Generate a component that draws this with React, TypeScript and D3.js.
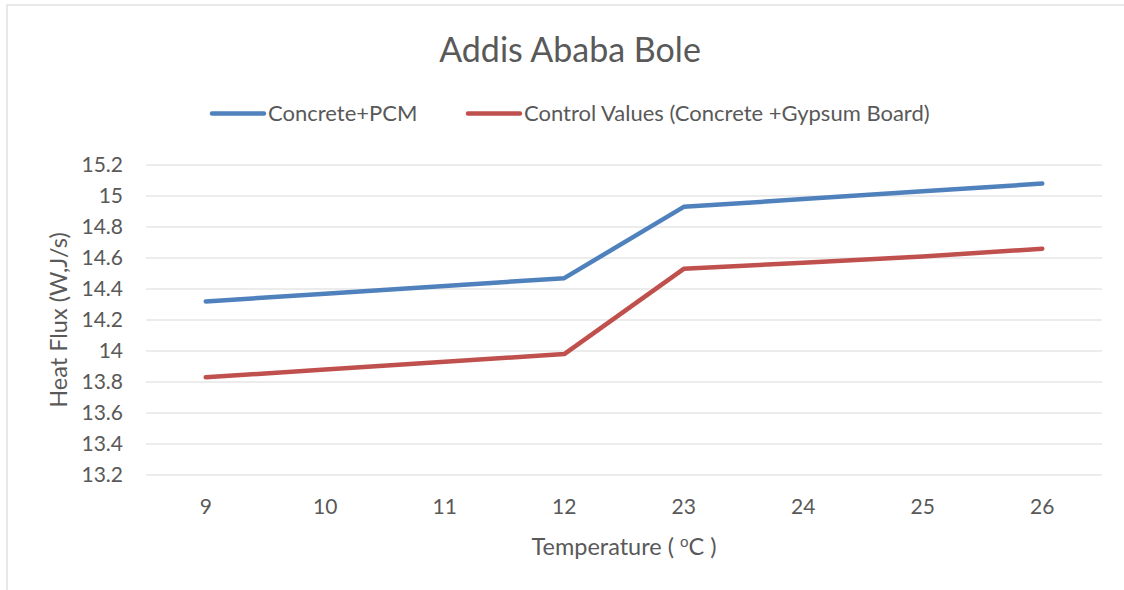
import * as d3 from 'd3';
import React from 'react';

const temps = ['9', '10', '11', '12', '23', '24', '25', '26'];
const pcmValues = [14.32, 14.37, 14.42, 14.47, 14.93, 14.98, 15.03, 15.08];
const controlValues = [13.83, 13.88, 13.93, 13.98, 14.53, 14.57, 14.61, 14.66];
const yTicks = [13.2, 13.4, 13.6, 13.8, 14, 14.2, 14.4, 14.6, 14.8, 15, 15.2];
const seriesNames = ['Concrete+PCM', 'Control Values (Concrete +Gypsum Board)'];
const seriesColors = ['#4F81BD', '#C0504D'];

const W = 1124;
const H = 590;
const font = 'Lato, "Open Sans", sans-serif';
const textColor = '#595959';

export default function App() {
  const plot = { left: 146, right: 1102, top: 165, bottom: 475 };

  const x = d3.scaleBand<string>().domain(temps).range([plot.left, plot.right]);
  const y = d3.scaleLinear().domain([13.2, 15.2]).range([plot.bottom, plot.top]);

  const line = d3.line<number>()
    .x((d, i) => (x(temps[i]) as number) + x.bandwidth() / 2)
    .y(d => y(d));

  const series = [pcmValues, controlValues];

  return (
    <svg width={W} height={H} style={{ position: 'absolute', left: 0, top: 0, background: '#fff' }}>
      <rect x={7} y={5} width={W} height={H} fill="#fff" stroke="#d9d9d9" strokeWidth={1.2} />

      <text x={570} y={62} textAnchor="middle" fontFamily={font} fontSize={34} fill={textColor}>
        Addis Ababa Bole
      </text>

      {/* legend */}
      <line x1={212} x2={264} y1={113.5} y2={113.5} stroke={seriesColors[0]} strokeWidth={4.5} strokeLinecap="round" />
      <text x={268} y={121} fontFamily={font} fontSize={22} fill={textColor}>{seriesNames[0]}</text>
      <line x1={468} x2={520} y1={113.5} y2={113.5} stroke={seriesColors[1]} strokeWidth={4.5} strokeLinecap="round" />
      <text x={524} y={121} fontFamily={font} fontSize={22} fill={textColor}>{seriesNames[1]}</text>

      {/* gridlines */}
      {yTicks.map(t => (
        <line key={t} x1={plot.left} x2={plot.right} y1={y(t)} y2={y(t)} stroke="#d9d9d9" strokeWidth={1.2} />
      ))}

      {/* y tick labels */}
      {yTicks.map(t => (
        <text key={'l' + t} x={123} y={y(t) + 7} textAnchor="end" fontFamily={font} fontSize={21} fill={textColor}>
          {String(t)}
        </text>
      ))}

      {/* x tick labels */}
      {temps.map(c => (
        <text key={c} x={(x(c) as number) + x.bandwidth() / 2} y={514} textAnchor="middle" fontFamily={font} fontSize={21} fill={textColor}>
          {c}
        </text>
      ))}

      {/* series */}
      {series.map((s, i) => (
        <path key={i} d={line(s) || ''} fill="none" stroke={seriesColors[i]} strokeWidth={4.5}
          strokeLinecap="round" strokeLinejoin="round" />
      ))}

      {/* axis titles */}
      <text x={624} y={555} textAnchor="middle" fontFamily={font} fontSize={23.5} fill={textColor}>
        {'Temperature ( '}
        <tspan fontSize={15} dy={-8}>o</tspan>
        <tspan dy={8}>{'C )'}</tspan>
      </text>
      <text transform={`translate(67, ${(plot.top + plot.bottom) / 2}) rotate(-90)`} textAnchor="middle"
        fontFamily={font} fontSize={23.5} fill={textColor}>
        Heat Flux (W,J/s)
      </text>
    </svg>
  );
}
